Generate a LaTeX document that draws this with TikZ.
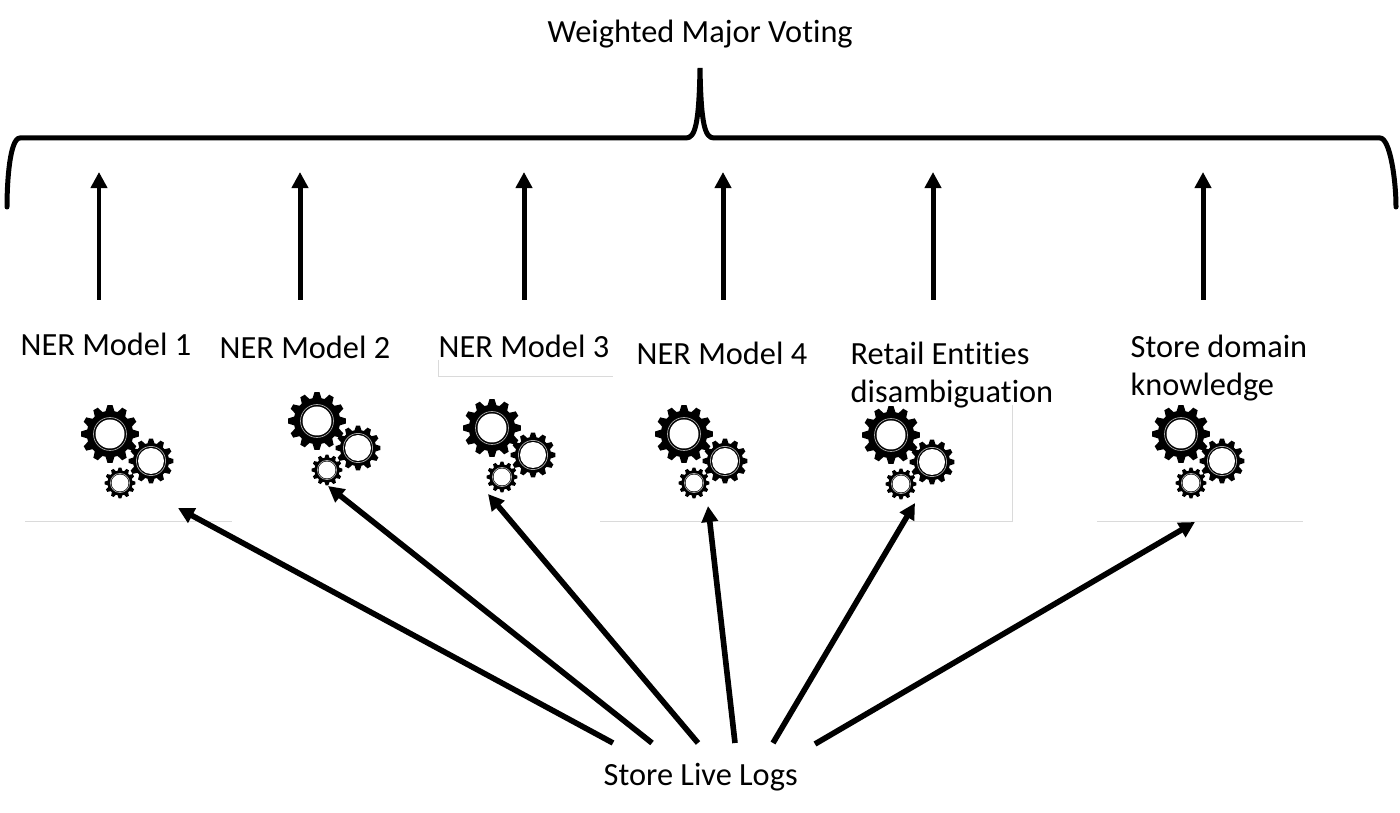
\documentclass[tikz,border=0pt]{standalone}
\usepackage{fontspec}
\setmainfont[Ligatures=CommonOff]{Carlito}
\usepackage{xcolor}
\usetikzlibrary{arrows.meta, positioning}
\definecolor{RuleGray}{HTML}{DADADA}
\definecolor{RingGray}{HTML}{A8A8A8}

\tikzset{
  pics/gearwheel/.style n args={3}{code={
    \fill[black] (0:#1*0.8) \foreach \a in {0,30,...,330}{
        -- (\a-11:#1*0.8) -- (\a-5:#1) -- (\a+5:#1) -- (\a+11:#1*0.8) -- (\a+19:#1*0.8)
      } -- cycle;
    \fill[white] (0,0) circle (#2);
    \draw[RingGray, line width=0.2pt] (0,0) circle (#3);
  }},
  pics/gearset/.style={code={
    \pic at (0,0)   {gearwheel={29}{14.5}{16.5}};
    \pic at (41,27) {gearwheel={22.5}{13}{14.6}};
    \pic at (10,49) {gearwheel={15.5}{8.5}{9.6}};
  }}
}

\begin{document}
\begin{tikzpicture}[
  x=0.01cm, y=-0.01cm,
  label/.style={font=\fontsize{9.2}{10.9}\selectfont, inner sep=0pt, anchor=base west, align=left},
  uparrow/.style={-{Triangle[length=0.16cm,width=0.16cm]}, line width=1.42pt},
  logarrow/.style={-{Triangle[length=0.16cm,width=0.16cm]}, line width=1.6pt},
  brace/.style={line width=1.42pt, line cap=round},
  rulerline/.style={RuleGray, line width=0.25pt}
]
\useasboundingbox (0,0) rectangle (1400,813);

% Labels
\node[label] (voting) at (547,43)  {Weighted Major Voting};
\node[label] (ner1)   at (20,356)  {NER Model 1};
\node[label] (ner2)   at (219,359) {NER Model 2};
\node[label] (ner3)   at (438,358) {NER Model 3};
\node[label] (ner4)   at (636,365) {NER Model 4};
\node[label] (retail) at (850,403) {Retail Entities\\disambiguation};
\node[label] (domain) at (1130,396) {Store domain\\knowledge};
\node[label] (logs)   at (603,785) {Store Live Logs};

% Thin lines
\draw[rulerline] (25,521) -- (232,521);
\draw[rulerline] (438,360) -- (438,376) -- (613,376);
\draw[rulerline] (600,521) -- (1012,521) -- (1012,405);
\draw[rulerline] (1097,521) -- (1303,521);

% Gears
\pic (gears1) at (110,434) {gearset};
\pic (gears2) at (317,421) {gearset};
\pic (gears3) at (492,428) {gearset};
\pic (gears4) at (684,434) {gearset};
\pic (gears5) at (891,435) {gearset};
\pic (gears6) at (1181,434) {gearset};

% Brace
\draw[brace] (7,207) .. controls (7,180) and (10,138) .. (20,138) -- (686,138)
  .. controls (695,138) and (699,125) .. (700,68)
  .. controls (701,125) and (705,138) .. (714,138) -- (1380,138)
  .. controls (1390,138) and (1396,180) .. (1396,207);

% Arrows to the brace
\foreach \name/\xpos in {a/99, b/300, c/524, d/723, e/933, f/1203}{
  \coordinate (\name bottom) at (\xpos,300);
  \coordinate (\name top) at (\xpos,172);
  \draw[uparrow] (\name bottom) -- (\name top);
}

% Arrows from the logs
\foreach \name/\xfrom/\yfrom/\xto/\yto in {1/613/743/178/508, 2/652/743/328/486, 3/698/743/488/494,
    4/735/743/708/506, 5/773/743/915/503, 6/815/744/1195/522}{
  \coordinate (s\name) at (\xfrom,\yfrom);
  \coordinate (g\name) at (\xto,\yto);
  \draw[logarrow] (s\name) -- (g\name);
}

\end{tikzpicture}
\end{document}
